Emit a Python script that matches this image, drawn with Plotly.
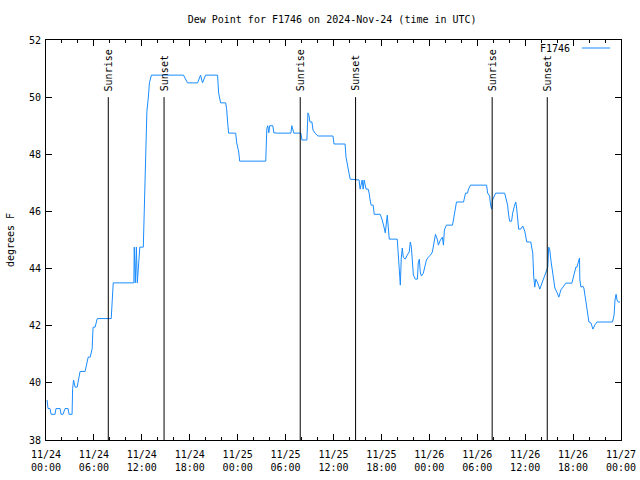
import plotly.graph_objects as go

# ---- data ----
times_nov24 = ["00:08","00:15","00:30","00:38","01:08","01:15","01:46","01:53","02:08","02:23",
               "02:46","02:53","03:16","03:20","03:27","03:39","03:54","04:09","04:16","04:54",
               "05:02","05:17","05:32","05:47","05:51","05:54","06:09","06:17","06:25","08:10",
               "08:14","08:21","08:25","11:00","11:03","11:11","11:19","11:26","11:45","12:11",
               "12:15","12:23","12:30","12:38","12:49","12:57","13:12","17:13","17:43","18:59",
               "19:21","19:36","19:59","21:29","21:37","21:52","22:30","22:37","22:45","22:52",
               "23:45","23:53"]
dew_nov24 = [39.4,39.1,39.1,38.9,38.9,39.1,39.1,38.9,38.9,39.1,
             39.1,38.9,38.9,39.8,40.1,39.85,39.85,40.2,40.4,40.4,
             40.6,40.9,40.9,41.2,41.7,41.95,41.95,42.1,42.25,42.25,
             42.55,43.2,43.5,43.5,44.75,43.5,44.75,43.5,44.75,44.75,
             45.6,47.2,48.2,49.5,50.0,50.5,50.77,50.77,50.5,50.5,
             50.77,50.5,50.77,50.77,50.14,49.8,49.8,49.6,49.1,48.74,
             48.74,48.4]

times_nov25 = ["00:08","00:15","03:31","03:35","03:39","03:46","03:54","04:01","04:24","04:32",
               "05:02","06:40","06:47","07:02","07:55","08:03","08:40","08:48","08:55","09:03",
               "09:18","09:26","09:41","10:03","11:56","12:04","13:27","13:34","13:50","14:05",
               "15:12","15:20","15:35","15:43","15:50","16:05","16:20","16:28","16:35","16:43",
               "16:58","17:06","17:51","18:06","18:21","18:29","18:44","18:51","18:59","19:59",
               "20:06","20:14","20:22","20:29","20:37","20:44","20:59","21:14","21:29","21:37",
               "21:45","21:52","22:00","22:15","22:30","22:37","22:45","22:52","23:00","23:15",
               "23:23","23:38","23:53"]
dew_nov25 = [48.08,47.76,47.76,48.1,48.9,49.0,48.75,49.0,49.0,48.75,
             48.74,48.74,49.0,48.74,48.74,48.5,48.5,49.45,49.37,49.13,
             49.13,48.85,48.74,48.64,48.64,48.36,48.36,47.9,47.45,47.13,
             47.1,46.78,47.1,46.78,47.1,46.78,46.78,46.64,46.4,46.22,
             46.22,45.9,45.9,45.7,45.42,45.25,45.87,45.42,45.03,45.03,
             44.58,43.77,43.42,44.37,44.72,44.4,44.33,44.47,44.58,44.93,
             44.75,44.3,43.77,43.63,43.63,44.2,44.33,43.88,43.74,43.84,
             44.05,44.3,44.4]

times_nov26 = ["00:08","00:23","00:38","00:46","01:01","01:08","01:23","01:38","01:46","01:53",
               "02:08","02:54","03:01","03:09","03:16","03:24","04:17","04:24","04:32","04:47",
               "04:54","05:09","07:10","07:18","07:33","07:40","07:48","07:55","08:10","08:18",
               "09:26","09:33","09:48","09:56","10:03","10:18","10:26","10:41","10:49","10:56",
               "11:04","11:11","11:26","11:42","11:57","12:12","12:42","12:57","13:04","13:12",
               "13:20","13:35","13:50","14:05","14:20","14:35","14:50","14:57","15:05","15:13",
               "15:28","15:43","15:58","16:13","16:28","16:43","17:06","17:51","18:06","18:21",
               "18:29","18:44","18:48","18:51","18:59","19:14","19:21","19:37","19:52","19:59",
               "20:14","20:29","20:44","20:59","22:56","23:08","23:15","23:23","23:30","23:38",
               "23:53"]
dew_nov26 = [44.47,44.58,45.07,45.2,45.0,44.82,45.0,45.1,44.82,45.35,
             45.52,45.52,45.7,45.94,46.15,46.33,46.33,46.47,46.64,46.64,
             46.78,46.92,46.92,46.64,46.54,46.22,46.08,46.4,46.57,46.64,
             46.64,46.5,46.22,45.87,45.66,45.66,45.94,46.22,46.33,46.12,
             45.63,45.38,45.38,45.49,45.31,44.93,44.93,44.54,43.74,43.35,
             43.63,43.49,43.28,43.49,43.7,43.88,44.05,44.75,44.65,44.3,
             43.7,43.32,43.18,43.0,43.25,43.35,43.49,43.49,43.77,44.05,
             44.05,44.3,44.37,43.6,43.35,43.38,43.32,42.83,42.37,42.13,
             42.1,41.88,42.03,42.13,42.13,42.37,42.9,43.1,42.9,42.83,
             42.83]

event_times = ["2024-11-24 07:48", "2024-11-24 14:47", "2024-11-25 07:50",
               "2024-11-25 14:46", "2024-11-26 07:52", "2024-11-26 14:46"]
event_labels = ["Sunrise", "Sunset", "Sunrise", "Sunset", "Sunrise", "Sunset"]
event_bottom = 38
event_top = 50

series_name = "F1746"
title_text = "Dew Point for F1746 on 2024-Nov-24 (time in UTC)"
y_title = "degrees F"

x = ([f"2024-11-24 {t}" for t in times_nov24] +
     [f"2024-11-25 {t}" for t in times_nov25] +
     [f"2024-11-26 {t}" for t in times_nov26])
y = dew_nov24 + dew_nov25 + dew_nov26

FONT = "DejaVu Sans Mono"
FS = 10
LINE_COLOR = "#1a8cff"

fig = go.Figure()
fig.add_trace(go.Scatter(x=x, y=y, mode="lines", name=series_name,
                         line=dict(color=LINE_COLOR, width=1), showlegend=False))

shapes = []
annotations = []
for t, lab in zip(event_times, event_labels):
    shapes.append(dict(type="line", xref="x", yref="y", x0=t, x1=t,
                       y0=event_bottom, y1=event_top,
                       line=dict(color="black", width=1)))
    annotations.append(dict(x=t, y=event_top, xref="x", yref="y", text=lab,
                            textangle=-90, showarrow=False, yanchor="bottom",
                            xanchor="center", yshift=4,
                            font=dict(family=FONT, size=FS, color="black")))

# legend (gnuplot style: text then sample)
annotations.append(dict(x=0.915, y=0.98, xref="paper", yref="paper", text=series_name,
                        showarrow=False, xanchor="right", yanchor="middle",
                        font=dict(family=FONT, size=FS, color="black")))
shapes.append(dict(type="line", xref="paper", yref="paper", x0=0.932, x1=0.981,
                   y0=0.98, y1=0.98, line=dict(color=LINE_COLOR, width=1)))

fig.update_layout(
    width=640, height=480,
    margin=dict(l=46, r=19, t=40, b=40),
    paper_bgcolor="white", plot_bgcolor="white",
    font=dict(family=FONT, size=FS, color="black"),
    title=dict(text=title_text, x=0.519, xanchor="center", y=0.96, yanchor="middle",
               font=dict(family=FONT, size=FS, color="black")),
    shapes=shapes, annotations=annotations,
    xaxis=dict(range=["2024-11-24 00:00", "2024-11-27 00:00"], automargin=False,
               tick0="2024-11-24 00:00", dtick=6 * 3600 * 1000,
               tickformat="%m/%d<br>%H:%M", ticks="inside", ticklen=6,
               ticklabelstandoff=5,
               tickcolor="black", showline=True, linecolor="black", linewidth=1,
               mirror="ticks", showgrid=False, zeroline=False,
               minor=dict(dtick=2 * 3600 * 1000, ticks="inside", ticklen=3,
                          tickcolor="black", showgrid=False),
               tickfont=dict(family=FONT, size=FS)),
    yaxis=dict(range=[38, 52], dtick=2, ticks="inside", ticklen=6, tickcolor="black",
               automargin=False, ticklabelstandoff=2,
               showline=True, linecolor="black", linewidth=1, mirror="ticks",
               showgrid=False, zeroline=False,
               title=dict(text=y_title, font=dict(family=FONT, size=FS), standoff=12),
               tickfont=dict(family=FONT, size=FS)),
)

fig.write_html("out.html")
